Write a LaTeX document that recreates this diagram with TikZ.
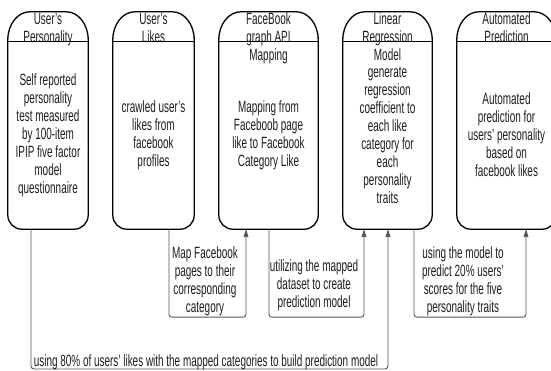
\documentclass[tikz,border=0pt]{standalone}
\usepackage{fontspec}
\setmainfont{Liberation Sans}[FakeStretch=0.61]
\usetikzlibrary{calc,arrows.meta}
\definecolor{txtc}{HTML}{1E1E1E}
\definecolor{connc}{HTML}{555555}
\newcommand\mybox[1]{%
  \draw[boxline] ($(#1.south west)+(0,14)$) -- ($(#1.north west)+(0,-28)$)
    arc[start angle=180,end angle=90,x radius=22,y radius=28]
    -- ($(#1.north east)+(-22,0)$)
    arc[start angle=90,end angle=0,x radius=22,y radius=28]
    -- ($(#1.south east)+(0,14)$)
    arc[start angle=0,end angle=-90,radius=14]
    -- ($(#1.south west)+(14,0)$)
    arc[start angle=270,end angle=180,radius=14] -- cycle;
  \draw[boxline] ($(#1.north west)+(0,-30)$) -- ($(#1.north east)+(0,-30)$);}
\begin{document}
\begin{tikzpicture}[x=1pt,y=1pt,
  boxline/.style={line width=1.3pt,black},
  conn/.style={line width=0.9pt,draw=connc,rounded corners=3},
  tip/.style={-{Triangle[length=8pt,width=5pt]}},
  txt/.style={font=\fontsize{16.3}{18}\selectfont,align=center,inner sep=0pt,text=txtc},
  frame/.style={minimum width=#1,minimum height=217pt,inner sep=0pt,draw=none}]
\useasboundingbox (0,0) rectangle (551,371);
\fill[white] (0,0) rectangle (551,371);
\clip (0,0) rectangle (551,371);
% box frames
\node[frame=80pt] (b1) at (48,250.5) {};
\node[frame=81pt] (b2) at (153.5,250.5) {};
\node[frame=99pt] (b3) at (268.5,250.5) {};
\node[frame=89pt] (b4) at (387.5,250.5) {};
\node[frame=99pt] (b5) at (506.5,250.5) {};
% header texts
\node[txt,anchor=north] (h1) at ([yshift=-1pt]b1.north) {User's\\Personality};
\node[txt,anchor=north] (h2) at ([yshift=-1pt]b2.north) {User's\\Likes};
\node[txt,anchor=north] (h3) at ([yshift=-1pt]b3.north) {FaceBook\\graph API\\Mapping};
\node[txt,anchor=north] (h4) at ([yshift=-1pt]b4.north) {Linear\\Regression\\Model};
\node[txt,anchor=north] (h5) at ([yshift=-1pt]b5.north) {Automated\\Prediction};
% body texts
\node[txt] (t1) at ([yshift=-14.5pt]b1.center) {Self reported\\personality\\test measured\\by 100-item\\IPIP five factor\\model\\questionnaire};
\node[txt] (t2) at ([yshift=-14.5pt]b2.center) {crawled user's\\likes from\\facebook\\profiles};
\node[txt] (t3) at ([yshift=-14.5pt]b3.center) {Mapping from\\Faceboob page\\like to Facebook\\Category Like};
\node[txt] (t4) at ([yshift=-14.5pt]b4.center) {generate\\regression\\coefficient to\\each like\\category for\\each\\personality\\traits};
\node[txt] (t5) at ([yshift=-14.5pt]b5.center) {Automated\\prediction for\\users' personality\\based on\\facebook likes};
% outlines
\mybox{b1}\mybox{b2}\mybox{b3}\mybox{b4}\mybox{b5}
% connectors
\coordinate (s1) at ([xshift=-17pt]b1.south);
\coordinate (e1) at ([xshift=0.5pt]b4.south);
\coordinate (low) at (388,2);
\draw[conn,tip] (s1) |- (low) -- (e1);
\coordinate (s2) at ([xshift=15.5pt]b2.south);
\coordinate (e2) at ([xshift=-22.5pt]b3.south);
\draw[conn,tip] (s2) -- ++(0,-88) -| (e2);
\coordinate (s3) at ([xshift=0.5pt]b3.south);
\coordinate (e3) at ([xshift=-23.5pt]b4.south);
\draw[conn,tip] (s3) -- ++(0,-88) -| (e3);
\coordinate (s4) at ([xshift=26.5pt]b4.south);
\coordinate (e4) at ([xshift=19.5pt]b5.south);
\draw[conn,tip] (s4) -- ++(0,-88) -| (e4);
% labels
\node[txt] (l2) at (205,89.5) {Map Facebook\\pages to their\\corresponding\\category};
\node[txt] (l3) at (314,86) {utilizing the mapped\\dataset to create\\prediction model};
\node[txt] (l4) at (463,90) {using the model to\\predict 20\% users'\\scores for the five\\personality traits};
\node[txt] (l1) at (206,9) {using 80\% of users' likes with the mapped categories to build prediction model};
\end{tikzpicture}
\end{document}
